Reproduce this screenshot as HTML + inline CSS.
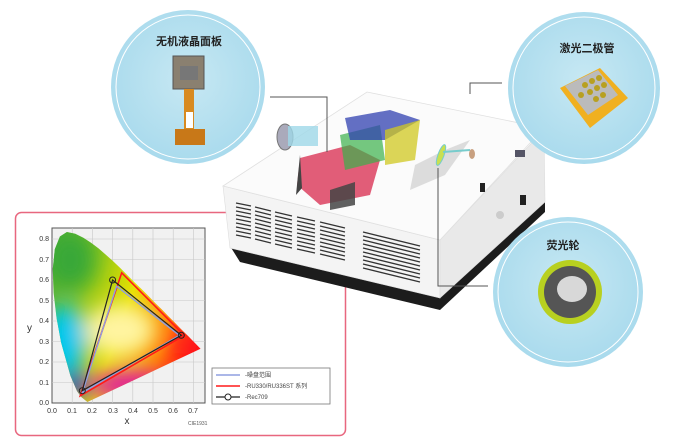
<!DOCTYPE html>
<html><head><meta charset="utf-8"><style>
html,body{margin:0;padding:0;background:#fff;}
body{width:700px;height:442px;overflow:hidden;position:relative;font-family:"Liberation Sans","Noto Sans CJK SC",sans-serif;}
svg{position:absolute;left:0;top:0;}
</style></head><body>
<svg width="700" height="442" viewBox="0 0 700 442" xmlns="http://www.w3.org/2000/svg">
<defs>
<radialGradient id="cg" cx="50%" cy="45%" r="60%"><stop offset="0" stop-color="#c7e8f3"/><stop offset="1" stop-color="#a6d9ec"/></radialGradient>
<linearGradient id="base" x1="0" y1="0" x2="1" y2="0.4"><stop offset="0" stop-color="#2fa43a"/><stop offset="0.35" stop-color="#8cc61a"/><stop offset="0.6" stop-color="#e8e000"/><stop offset="0.85" stop-color="#ff7a00"/><stop offset="1" stop-color="#ff1010"/></linearGradient>
<clipPath id="hs"><path d="M87.4,402 L81.1,396.9 L77,391.1 L70.4,375.7 L61.1,342.5 L56.6,318.3 L53.6,292.7 L52.8,268.7 L54.8,249.3 L59.9,236.5 L66.9,232 L75.2,233.7 L83.3,237.8 L91,242.7 L98.5,248.4 L105.7,254.6 L113,261.1 L120.1,267.9 L127.3,275.1 L134.4,282.3 L141.7,289.2 L148.8,296.4 L155.4,303.2 L162.1,309.7 L168.2,316.1 L173.8,321.6 L178.7,326.7 L182.9,331 L186.5,334.5 L189.4,337.4 L200.5,348.7 Z"/></clipPath>
<filter id="bl"><feGaussianBlur stdDeviation="10"/></filter>
</defs>

<rect x="15.5" y="212.5" width="330" height="223" rx="6" fill="#fff" stroke="#e8677f" stroke-width="1.5"/>
<rect x="52" y="228" width="153" height="175" fill="#f1f1f1" stroke="#555" stroke-width="1"/>
<g stroke="#c8c8c8" stroke-width="0.6">
<line x1="72.2" y1="228" x2="72.2" y2="403"/><line x1="92.4" y1="228" x2="92.4" y2="403"/><line x1="112.6" y1="228" x2="112.6" y2="403"/><line x1="132.8" y1="228" x2="132.8" y2="403"/><line x1="153" y1="228" x2="153" y2="403"/><line x1="173.2" y1="228" x2="173.2" y2="403"/><line x1="193.4" y1="228" x2="193.4" y2="403"/>
<line x1="52" y1="382.5" x2="205" y2="382.5"/><line x1="52" y1="362" x2="205" y2="362"/><line x1="52" y1="341.5" x2="205" y2="341.5"/><line x1="52" y1="321" x2="205" y2="321"/><line x1="52" y1="300.5" x2="205" y2="300.5"/><line x1="52" y1="280" x2="205" y2="280"/><line x1="52" y1="259.5" x2="205" y2="259.5"/><line x1="52" y1="239" x2="205" y2="239"/>
</g>
<g clip-path="url(#hs)">
<rect x="40" y="220" width="170" height="190" fill="url(#base)"/>
<g filter="url(#bl)">
<ellipse cx="65" cy="340" rx="22" ry="35" fill="#00c8f0"/>
<ellipse cx="75" cy="385" rx="14" ry="14" fill="#2040c0"/>
<ellipse cx="130" cy="385" rx="40" ry="15" fill="#e020a0"/>
<ellipse cx="120" cy="330" rx="35" ry="25" fill="#fff4a0"/>
<ellipse cx="70" cy="260" rx="25" ry="30" fill="#38a838"/>
<ellipse cx="185" cy="345" rx="15" ry="10" fill="#ff2020"/>
</g>
</g>
<polygon points="121.7,272.8 184.3,335.3 80.3,395.8" fill="none" stroke="#ff1a1a" stroke-width="1.6"/>
<polygon points="116.6,286.2 179.3,335.3 82.3,392.7" fill="none" stroke="#8f9fe0" stroke-width="1.4"/>
<polygon points="112.6,280 181.3,335.3 82.3,390.7" fill="none" stroke="#222" stroke-width="1.2"/>
<circle cx="112.6" cy="280" r="3" fill="none" stroke="#222"/><circle cx="181.3" cy="335.3" r="3" fill="none" stroke="#222"/><circle cx="82.3" cy="390.7" r="3" fill="none" stroke="#222"/>
<g font-size="7" fill="#333" text-anchor="end">
<text x="49" y="405">0.0</text><text x="49" y="385">0.1</text><text x="49" y="364">0.2</text><text x="49" y="344">0.3</text><text x="49" y="323">0.4</text><text x="49" y="303">0.5</text><text x="49" y="282">0.6</text><text x="49" y="262">0.7</text><text x="49" y="241">0.8</text>
</g>
<g font-size="7" fill="#333" text-anchor="middle">
<text x="52" y="413">0.0</text><text x="72" y="413">0.1</text><text x="92" y="413">0.2</text><text x="113" y="413">0.3</text><text x="133" y="413">0.4</text><text x="153" y="413">0.5</text><text x="173" y="413">0.6</text><text x="193" y="413">0.7</text>
</g>
<text x="127" y="424" font-size="10" fill="#333" text-anchor="middle">x</text>
<text x="27" y="331" font-size="10" fill="#333">y</text>
<text x="188" y="425" font-size="5" fill="#555">CIE1931</text>
<rect x="212" y="368" width="118" height="36" fill="#fff" stroke="#777" stroke-width="0.8"/>
<line x1="216" y1="375" x2="240" y2="375" stroke="#8f9fe0" stroke-width="1.4"/>
<line x1="216" y1="386" x2="240" y2="386" stroke="#ff1a1a" stroke-width="1.4"/>
<line x1="216" y1="397" x2="240" y2="397" stroke="#222" stroke-width="1.2"/><circle cx="228" cy="397" r="3" fill="#fff" stroke="#222"/>
<g font-size="6" fill="#444"><text x="245" y="377">-噪盘范围</text><text x="245" y="388">-RU330/RU336ST 系列</text><text x="245" y="399">-Rec709</text></g>

<!-- projector -->
<polygon points="230,246 440,296 440,310 240,262" fill="#1c1c1c"/>
<polygon points="440,296 545,200 545,212 440,310" fill="#1c1c1c"/>
<polygon points="223,186 440,240 440,298 230,248" fill="#f4f4f4" stroke="#ddd" stroke-width="0.6"/>
<polygon points="440,240 544,130 545,202 440,298" fill="#e9e9e9" stroke="#ddd" stroke-width="0.6"/>
<polygon points="223,186 367,92 544,128 440,240" fill="#fbfbfb" stroke="#e0e0e0" stroke-width="0.8"/>
<g stroke="#333" stroke-width="1.3">
<path d="M236,203 L251,206 M236,207 L251,210 M236,211 L251,214 M236,215 L251,218 M236,219 L251,222 M236,223 L251,226 M236,227 L251,230 M236,231 L251,234 M236,235 L251,238"/>
<path d="M255,207 L271,211 M255,211 L271,215 M255,215 L271,219 M255,219 L271,223 M255,223 L271,227 M255,227 L271,231 M255,231 L271,235 M255,235 L271,239 M255,239 L271,243"/>
<path d="M275,212 L292,216 M275,216 L292,220 M275,220 L292,224 M275,224 L292,228 M275,228 L292,232 M275,232 L292,236 M275,236 L292,240 M275,240 L292,244 M275,244 L292,248"/>
<path d="M297,217 L315,221 M297,221 L315,225 M297,225 L315,229 M297,229 L315,233 M297,233 L315,237 M297,237 L315,241 M297,241 L315,245 M297,245 L315,249 M297,249 L315,253"/>
<path d="M320,222 L345,228 M320,226 L345,232 M320,230 L345,236 M320,234 L345,240 M320,238 L345,244 M320,242 L345,248 M320,246 L345,252 M320,250 L345,256 M320,254 L345,260"/>
<path d="M363,232 L420,246 M363,236 L420,250 M363,240 L420,254 M363,244 L420,258 M363,248 L420,262 M363,252 L420,266 M363,256 L420,270 M363,260 L420,274 M363,264 L420,278 M363,268 L420,282"/>
</g>
<ellipse cx="285" cy="137" rx="8" ry="13" fill="#aab" stroke="#777"/>
<rect x="288" y="126" width="30" height="20" fill="#9fd8e8" opacity="0.8"/>
<polygon points="300,158 350,145 380,160 370,195 320,205 297,185" fill="#d8284c" opacity="0.75"/>
<polygon points="340,135 380,125 385,160 345,170" fill="#3ab04a" opacity="0.7"/>
<polygon points="345,118 390,110 420,120 385,140 350,140" fill="#3040b0" opacity="0.75"/>
<polygon points="385,130 420,120 415,160 385,165" fill="#d0c820" opacity="0.75"/>
<polygon points="330,190 355,182 355,205 330,210" fill="#444" opacity="0.85"/>
<polygon points="300,155 302,188 296,195" fill="#444"/>
<polygon points="415,165 445,150 470,140 445,175 410,190" fill="#c8c8c8" opacity="0.6"/>
<ellipse cx="441" cy="155" rx="3" ry="11" fill="#c9e050" stroke="#7cc" transform="rotate(20 441 155)"/>
<line x1="443" y1="152" x2="470" y2="150" stroke="#7cc" stroke-width="2"/>
<ellipse cx="472" cy="154" rx="3" ry="5" fill="#c8a080"/>
<rect x="515" y="150" width="10" height="7" fill="#556"/><rect x="480" y="183" width="5" height="9" fill="#222"/><rect x="520" y="195" width="6" height="10" fill="#222"/>
<circle cx="500" cy="215" r="4" fill="#ccc"/>

<polyline points="270,97 327,97 327,152" fill="none" stroke="#555" stroke-width="1"/>
<polyline points="502,83 470,83 470,94" fill="none" stroke="#555" stroke-width="1"/>
<polyline points="438,168 438,286 488,286" fill="none" stroke="#555" stroke-width="1"/>

<circle cx="188" cy="87" r="77" fill="url(#cg)"/><circle cx="188" cy="87" r="72" fill="none" stroke="#fff" stroke-width="1"/>
<circle cx="584" cy="88" r="76" fill="url(#cg)"/><circle cx="584" cy="88" r="71" fill="none" stroke="#fff" stroke-width="1"/>
<circle cx="568" cy="292" r="75" fill="url(#cg)"/><circle cx="568" cy="292" r="70" fill="none" stroke="#fff" stroke-width="1"/>
<g font-size="11" font-weight="bold" fill="#222" text-anchor="middle">
<text x="189" y="45">无机液晶面板</text><text x="587" y="52">激光二极管</text><text x="563" y="249">荧光轮</text></g>
<rect x="173" y="56" width="31" height="33" fill="#8a8070" stroke="#555"/><rect x="180" y="66" width="18" height="14" fill="#777"/>
<rect x="184" y="89" width="10" height="40" fill="#d88a20"/><rect x="186" y="112" width="7" height="16" fill="#fff"/>
<rect x="175" y="129" width="30" height="16" fill="#c87818"/>
<polygon points="560,88 600,68 628,98 590,128" fill="#f0b020"/>
<polygon points="565,86 598,70 618,95 588,115" fill="#bbb"/>
<g fill="#b8a020"><circle cx="585" cy="85" r="3"/><circle cx="592" cy="81" r="3"/><circle cx="599" cy="78" r="3"/><circle cx="590" cy="92" r="3"/><circle cx="597" cy="88" r="3"/><circle cx="604" cy="85" r="3"/><circle cx="596" cy="99" r="3"/><circle cx="603" cy="95" r="3"/><circle cx="581" cy="95" r="3"/></g>
<circle cx="570" cy="292" r="32" fill="#b8d020"/><circle cx="570" cy="292" r="26" fill="#555"/>
<ellipse cx="572" cy="289" rx="15" ry="13" fill="#d8d8d8"/>
</svg>
</body></html>
